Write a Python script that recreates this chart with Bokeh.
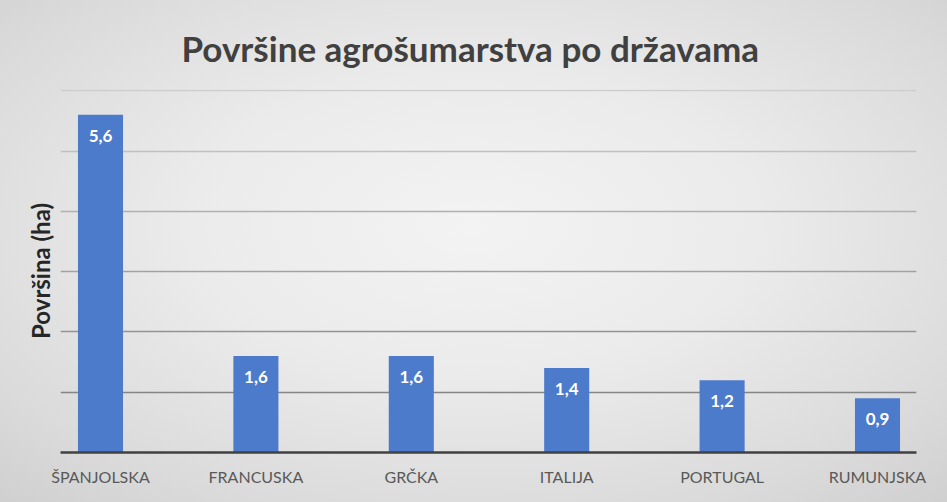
from bokeh.plotting import figure
from bokeh.models import Range1d, FixedTicker, Grid, ColumnDataSource
from bokeh.core.properties import value
from bokeh.embed import file_html
from bokeh.resources import INLINE

categories = ["ŠPANJOLSKA", "FRANCUSKA", "GRČKA", "ITALIJA", "PORTUGAL", "RUMUNJSKA"]
values = [5.6, 1.6, 1.6, 1.4, 1.2, 0.9]
value_labels = [f"{v:.1f}".replace(".", ",") for v in values]
y_ticks = [1, 2, 3, 4, 5, 6]
title_text = "Površine agrošumarstva po državama"
y_title = "Površina (ha)"

xs = list(range(len(categories)))
src = ColumnDataSource(dict(x=xs, top=values, lab=value_labels))

p = figure(width=947, height=502, output_backend="svg", toolbar_location=None,
           x_range=Range1d(-0.2574, 5.251), y_range=Range1d(0, 6.02),
           min_border_left=60, min_border_right=31, min_border_bottom=50, min_border_top=89)

p.background_fill_color = None
p.border_fill_color = None
p.outline_line_color = None
p.styles = {"background": "radial-gradient(ellipse 75% 75% at 50% 45%, #f3f3f3 0%, #ebebeb 40%, #dadada 80%, #cfcfcf 100%)"}

p.title.text = title_text
p.title.text_font = "Lato"
p.title.text_font_size = "35px"
p.title.text_font_style = "bold"
p.title.text_color = "#404040"
p.title.align = "left"
p.title.offset = 121
p.title.standoff = 42

p.vbar(x="x", top="top", width=0.29, bottom=0, source=src,
       fill_color="#4d7bcc", line_color=None)
p.text(x="x", y="top", text="lab", source=src, text_align="center",
       text_baseline="middle", y_offset=21, text_color="white",
       text_font=value("Lato"), text_font_style="bold", text_font_size="17px")

# grid
p.xgrid.visible = False
p.ygrid.visible = False
grid_colors = ["#858585", "#939393", "#a2a2a2", "#b0b0b0", "#c0c0c0", "#cdcdcd"]
for t, c in zip(y_ticks, grid_colors):
    g = Grid(dimension=1, ticker=FixedTicker(ticks=[t]), grid_line_color=c, grid_line_width=1.5)
    p.add_layout(g)

# bottom x axis (categories)
xaxis = p.below[0]
xaxis.ticker = FixedTicker(ticks=xs)
xaxis.major_label_overrides = {i: c for i, c in enumerate(categories)}
xaxis.major_label_text_font = "Lato"
xaxis.major_label_text_font_size = "16px"
xaxis.major_label_text_color = "#595959"
xaxis.major_label_standoff = 8
xaxis.major_tick_line_color = None
xaxis.minor_tick_line_color = None
xaxis.axis_line_color = "#404040"
xaxis.axis_line_width = 2.5

# y axis: only a title, no ticks or labels
yaxis = p.left[0]
yaxis.ticker = FixedTicker(ticks=[])
yaxis.major_tick_line_color = None
yaxis.minor_tick_line_color = None
yaxis.axis_line_color = None
yaxis.axis_label = y_title
yaxis.axis_label_text_font = "Lato"
yaxis.axis_label_text_font_size = "24px"
yaxis.axis_label_text_font_style = "bold"
yaxis.axis_label_text_color = "#262626"
yaxis.axis_label_standoff = 6

open("out.html", "w").write(file_html(p, INLINE))
